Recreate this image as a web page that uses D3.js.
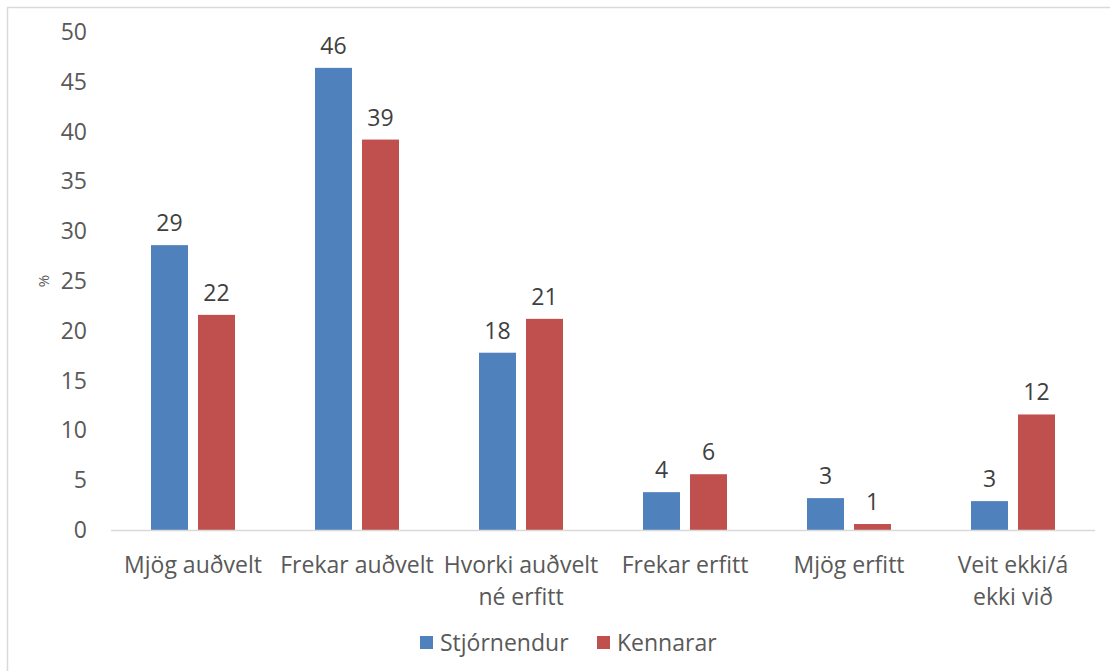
<!DOCTYPE html>
<html>
<head>
<meta charset="utf-8">
<script src="https://cdn.jsdelivr.net/npm/d3@7"></script>
<style>
  body { margin: 0; background: #fff; }
  text { font-family: "Open Sans", "Noto Sans", sans-serif; fill: #595959; }
</style>
</head>
<body>
<div id="chart"></div>
<script>
// Chart data
const categories = ["Mjög auðvelt", "Frekar auðvelt", "Hvorki auðvelt né erfitt", "Frekar erfitt", "Mjög erfitt", "Veit ekki/á ekki við"];
const categoryLines = [["Mjög auðvelt"], ["Frekar auðvelt"], ["Hvorki auðvelt", "né erfitt"], ["Frekar erfitt"], ["Mjög erfitt"], ["Veit ekki/á", "ekki við"]];
const seriesNames = ["Stjórnendur", "Kennarar"];
const stjornendur = [28.6, 46.4, 17.8, 3.8, 3.2, 2.9];
const kennarar = [21.6, 39.2, 21.2, 5.6, 0.6, 11.6];
const yTicks = [0, 5, 10, 15, 20, 25, 30, 35, 40, 45, 50];
const colors = ["#4f81bd", "#c0504d"];

const width = 1110, height = 671;
const plot = { left: 111, right: 1095, top: 32, bottom: 530 };

const svg = d3.select("#chart").append("svg")
    .attr("width", width)
    .attr("height", height);

// outer frame
svg.append("rect")
    .attr("x", 7.5).attr("y", 7.5)
    .attr("width", width).attr("height", height)
    .attr("fill", "none")
    .attr("stroke", "#d9d9d9")
    .attr("stroke-width", 1.5);

const x = d3.scaleBand()
    .domain(categories)
    .range([plot.left, plot.right]);

const x1 = d3.scaleBand()
    .domain(seriesNames)
    .range([0, 84])
    .paddingInner(0.213);

const y = d3.scaleLinear()
    .domain([0, 50])
    .range([plot.bottom, plot.top]);

// y tick labels
svg.append("g").selectAll("text")
    .data(yTicks)
    .enter().append("text")
    .attr("x", 87)
    .attr("y", d => y(d))
    .attr("dy", "0.35em")
    .attr("text-anchor", "end")
    .style("font-size", "23px")
    .text(d => d);

// y axis title
svg.append("text")
    .attr("transform", "translate(49,281) rotate(-90)")
    .attr("text-anchor", "middle")
    .style("font-size", "15px")
    .text("%");

const rows = categories.map((c, i) => ({ cat: c, values: [stjornendur[i], kennarar[i]] }));

const groups = svg.append("g").selectAll("g")
    .data(rows)
    .enter().append("g")
    .attr("transform", d => `translate(${x(d.cat) + x.bandwidth() / 2 - 42},0)`);

const bars = groups.selectAll("g")
    .data(d => d.values.map((v, j) => ({ name: seriesNames[j], value: v, j })))
    .enter().append("g");

bars.append("rect")
    .attr("x", d => x1(d.name))
    .attr("y", d => y(d.value))
    .attr("width", x1.bandwidth())
    .attr("height", d => y(0) - y(d.value))
    .attr("fill", d => colors[d.j]);

bars.append("text")
    .attr("x", d => x1(d.name) + x1.bandwidth() / 2)
    .attr("y", d => y(d.value) - 14)
    .attr("text-anchor", "middle")
    .style("font-size", "23px")
    .style("fill", "#404040")
    .text(d => Math.round(d.value));

// x axis line
svg.append("line")
    .attr("x1", plot.left).attr("x2", plot.right)
    .attr("y1", plot.bottom + 0.5).attr("y2", plot.bottom + 0.5)
    .attr("stroke", "#d9d9d9")
    .attr("stroke-width", 1.5);

// category labels
const catLabels = svg.append("g").selectAll("text")
    .data(categories)
    .enter().append("text")
    .attr("text-anchor", "middle")
    .style("font-size", "23px")
    .attr("transform", d => `translate(${x(d) + x.bandwidth() / 2},573)`);

catLabels.selectAll("tspan")
    .data((d, i) => categoryLines[i])
    .enter().append("tspan")
    .attr("x", 0)
    .attr("dy", (d, i) => i === 0 ? 0 : 32)
    .text(d => d);

// legend
const legendPos = [420, 597];
const legend = svg.append("g").selectAll("g")
    .data(seriesNames)
    .enter().append("g")
    .attr("transform", (d, i) => `translate(${legendPos[i]},636)`);

legend.append("rect")
    .attr("width", 13).attr("height", 13)
    .attr("fill", (d, i) => colors[i]);

legend.append("text")
    .attr("x", 20)
    .attr("y", 7)
    .attr("dy", "0.35em")
    .style("font-size", "23px")
    .text(d => d);
</script>
</body>
</html>
